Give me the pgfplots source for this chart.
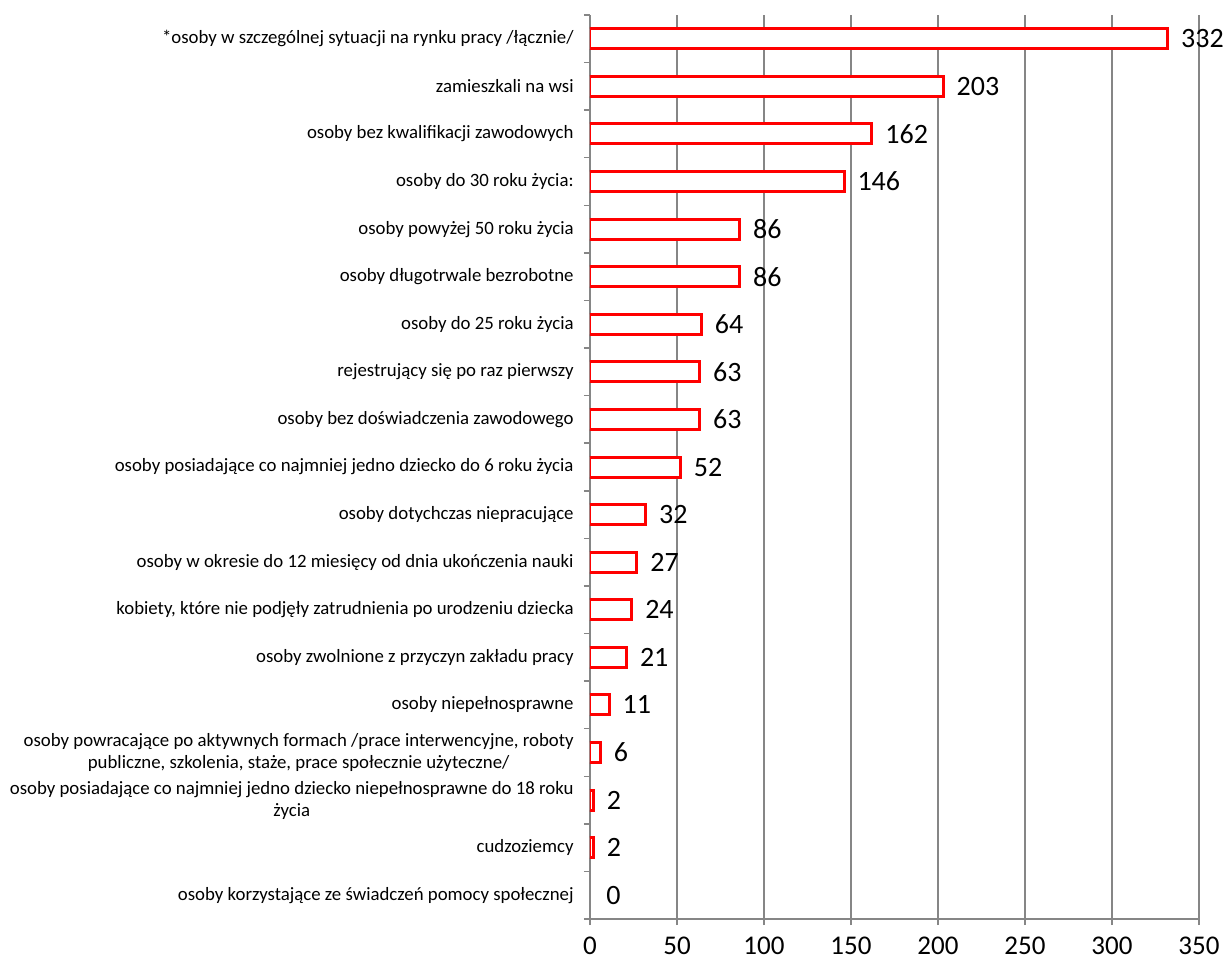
\documentclass[border=0pt]{standalone}
\usepackage{pgfplots}
\pgfplotsset{compat=1.18}
\usepackage{fontspec}
\setmainfont{Carlito}
\definecolor{gridgray}{HTML}{868686}
\definecolor{barred}{HTML}{FF0000}

\begin{document}
\begin{tikzpicture}
\begin{axis}[
    scale only axis,
    width=304.5pt,
    height=452pt,
    xbar,
    bar width=10pt,
    bar shift=0pt,
    xmin=0, xmax=350,
    ymin=-0.5, ymax=18.5,
    y dir=reverse,
    axis x line*=bottom,
    axis y line*=left,
    axis line style={draw=gridgray, line width=0.75pt, -},
    xtick={0,50,...,350},
    xmajorgrids,
    grid style={draw=gridgray, line width=0.75pt},
    tick align=outside,
    major tick length=3pt,
    minor tick length=3pt,
    x tick style={draw=gridgray, line width=0.75pt},
    ytick={0,...,18},
    minor ytick={-0.5,0.5,...,18.5},
    major y tick style={draw=none},
    minor y tick style={draw=gridgray, line width=0.75pt},
    yticklabels={
        {*osoby w szczególnej sytuacji na rynku pracy /łącznie/},
        {zamieszkali na wsi},
        {osoby bez kwalifikacji zawodowych},
        {osoby do 30 roku życia:},
        {osoby powyżej 50 roku życia},
        {osoby długotrwale bezrobotne},
        {osoby do 25 roku życia},
        {rejestrujący się po raz pierwszy},
        {osoby bez doświadczenia zawodowego},
        {osoby posiadające co najmniej jedno dziecko do 6 roku życia},
        {osoby dotychczas niepracujące},
        {osoby w okresie do 12 miesięcy od dnia ukończenia nauki},
        {kobiety, które nie podjęły zatrudnienia po urodzeniu dziecka},
        {osoby zwolnione z przyczyn zakładu pracy},
        {osoby niepełnosprawne},
        {osoby powracające po aktywnych formach /prace interwencyjne, roboty\\publiczne, szkolenia, staże, prace społecznie użyteczne/},
        {osoby posiadające co najmniej jedno dziecko niepełnosprawne do 18 roku\\życia},
        {cudzoziemcy},
        {osoby korzystające ze świadczeń pomocy społecznej}
    },
    yticklabel style={font=\fontsize{9.4}{11}\selectfont, align=center, anchor=east, inner sep=0pt, xshift=-5pt},
    xticklabel style={font=\fontsize{13.5}{16}\selectfont, inner sep=0pt, yshift=-6pt},
    /pgf/number format/assume math mode=true,
    point meta=x,
    nodes near coords={\pgfmathprintnumber[fixed,precision=0]{\pgfplotspointmeta}},
    nodes near coords align={horizontal},
    every node near coord/.append style={font=\fontsize{14}{16}\selectfont, text=black, anchor=west, inner sep=0pt, xshift=6pt},
]
\addplot[draw=barred, fill=white, line width=1.5pt] coordinates {
    (332,0) (203,1) (162,2) (146,3) (86,4) (86,5) (64,6) (63,7) (63,8)
    (52,9) (32,10) (27,11) (24,12) (21,13) (11,14) (6,15) (2,16) (2,17)
};
\addplot[draw=none, fill=none, every node near coord/.append style={xshift=2pt}] coordinates {
    (0,18)
};
\end{axis}
\pgfresetboundingbox
\path[use as bounding box] (-295pt,-20.5pt) rectangle (317pt,459.5pt);
\end{tikzpicture}
\end{document}
